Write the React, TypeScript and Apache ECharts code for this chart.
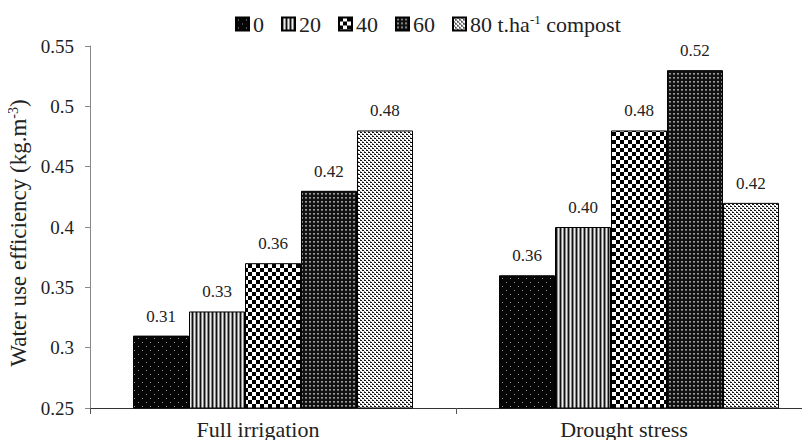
import React, { useEffect, useRef } from "react";
import * as echarts from "echarts";

const categories = ["Full irrigation", "Drought stress"];
const seriesNames = ["0", "20", "40", "60", "80"];
const values0 = [0.31, 0.36];
const values20 = [0.33, 0.40];
const values40 = [0.37, 0.48];
const values60 = [0.43, 0.53];
const values80 = [0.48, 0.42];
const labels0 = ["0.31", "0.36"];
const labels20 = ["0.33", "0.40"];
const labels40 = ["0.36", "0.48"];
const labels60 = ["0.42", "0.52"];
const labels80 = ["0.48", "0.42"];
const yTicks = { min: 0.25, max: 0.55, interval: 0.05 };

const FONT = '"Liberation Serif", "Times New Roman", serif';

function makePattern(w: number, h: number, draw: (ctx: CanvasRenderingContext2D) => void) {
  const c = document.createElement("canvas");
  c.width = w;
  c.height = h;
  const ctx = c.getContext("2d") as CanvasRenderingContext2D;
  draw(ctx);
  return { image: c, repeat: "repeat" } as any;
}

function px(ctx: CanvasRenderingContext2D, x: number, y: number, col: string, w = 1, h = 1) {
  ctx.fillStyle = col;
  ctx.fillRect(x, y, w, h);
}

function buildPatterns() {
  const p0 = makePattern(8, 8, (ctx) => {
    px(ctx, 0, 0, "#050505", 8, 8);
    px(ctx, 2, 2, "#9a9a9a");
    px(ctx, 6, 6, "#9a9a9a");
  });
  const p1 = makePattern(4, 4, (ctx) => {
    px(ctx, 0, 0, "#111", 1, 4);
    px(ctx, 1, 0, "#8a8a8a", 1, 4);
    px(ctx, 2, 0, "#ececec", 1, 4);
    px(ctx, 3, 0, "#8a8a8a", 1, 4);
  });
  const p2 = makePattern(8, 8, (ctx) => {
    px(ctx, 0, 0, "#fff", 8, 8);
    px(ctx, 0, 0, "#000", 4, 4);
    px(ctx, 4, 4, "#000", 4, 4);
  });
  const p3 = makePattern(4, 4, (ctx) => {
    px(ctx, 0, 0, "#111", 4, 4);
    px(ctx, 1, 1, "#9a9a9a", 2, 1);
    px(ctx, 1, 2, "#6a6a6a", 2, 1);
  });
  const p4 = makePattern(4, 4, (ctx) => {
    px(ctx, 0, 0, "#fff", 4, 4);
    px(ctx, 0, 0, "#111", 2, 1);
    px(ctx, 2, 2, "#111", 2, 1);
    px(ctx, 2, 1, "#888");
    px(ctx, 0, 3, "#888");
  });
  return [p0, p1, p2, p3, p4];
}

export default function App() {
  const ref = useRef<HTMLDivElement>(null);
  useEffect(() => {
    if (!ref.current) return;
    const chart = echarts.init(ref.current, undefined, { renderer: "svg" });
    const patterns = buildPatterns();
    const vals = [values0, values20, values40, values60, values80];
    const labs = [labels0, labels20, labels40, labels60, labels80];
    const series = seriesNames.map((name, i) => ({
      name,
      type: "bar",
      barGap: "0%",
      barCategoryGap: "23.5%",
      data: vals[i],
      itemStyle: { color: patterns[i], borderColor: "#000", borderWidth: 1 },
      label: {
        show: true,
        position: "top",
        distance: 11,
        fontFamily: FONT,
        fontSize: 17,
        color: "#222",
        formatter: (p: any) => labs[i][p.dataIndex],
      },
    }));
    chart.setOption({
      animation: false,
      backgroundColor: "#fff",
      textStyle: { fontFamily: FONT },
      legend: {
        left: 230,
        top: 8,
        itemWidth: 13,
        itemHeight: 13,
        itemGap: 17,
        icon: "rect",
        data: seriesNames,
        formatter: (n: string) => (n === "80" ? "80 t.ha{sup|-1} compost" : n),
        textStyle: {
          fontFamily: FONT,
          fontSize: 22,
          color: "#222",
          padding: [0, 0, 0, -1],
          rich: {
            sup: { fontFamily: FONT, fontSize: 13, verticalAlign: "top", lineHeight: 21, color: "#222" },
          },
        },
      },
      grid: { left: 90, right: -12, top: 46, bottom: 40, outerBoundsMode: "none" },
      xAxis: {
        type: "category",
        data: categories,
        axisLine: { lineStyle: { color: "#333", width: 1 } },
        axisTick: { show: true, length: 6, lineStyle: { color: "#555" } },
        axisLabel: {
          fontFamily: FONT,
          fontSize: 22,
          color: "#222",
          margin: 10,
          padding: [0, 30, 0, 0],
        },
      },
      yAxis: {
        type: "value",
        min: yTicks.min,
        max: yTicks.max,
        interval: yTicks.interval,
        splitLine: { show: false },
        axisLine: { show: true, lineStyle: { color: "#888", width: 1 } },
        axisTick: { show: true, length: 5, lineStyle: { color: "#888" } },
        axisLabel: { fontFamily: FONT, fontSize: 19, color: "#222", margin: 16 },
        name: "Water use efficiency (kg.m{sup|-3})",
        nameLocation: "middle",
        nameRotate: 90,
        nameGap: 55,
        nameTextStyle: {
          fontFamily: FONT,
          fontSize: 23,
          color: "#222",
          padding: [0, 12, 0, 0],
          rich: {
            sup: { fontFamily: FONT, fontSize: 14, verticalAlign: "top", lineHeight: 23, color: "#222" },
          },
        },
      },
      series,
    } as any);
    return () => chart.dispose();
  }, []);
  return <div ref={ref} style={{ width: 810, height: 448, margin: -8 }} />;
}
